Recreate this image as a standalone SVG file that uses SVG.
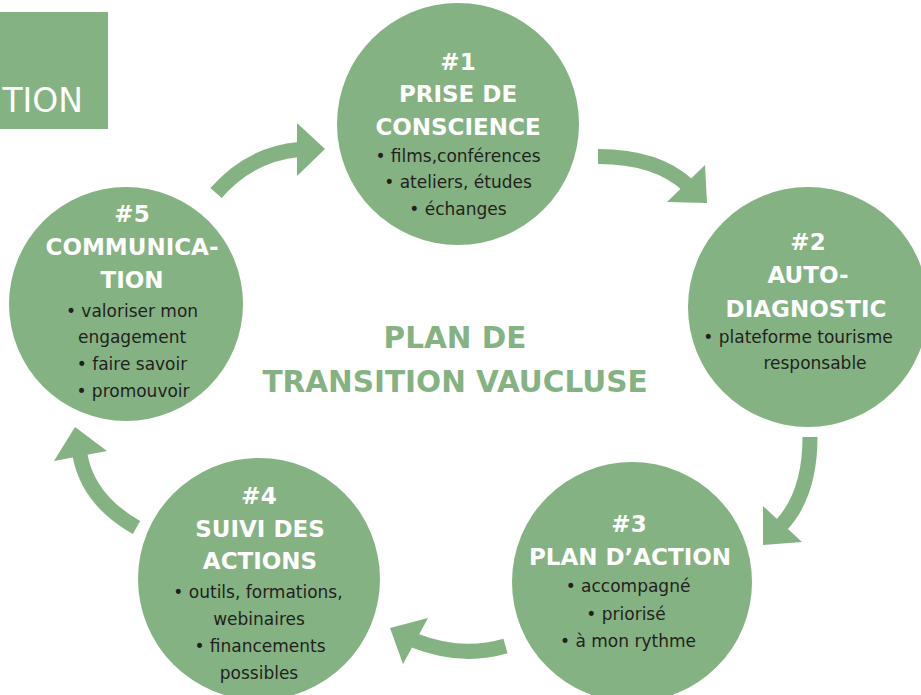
<svg xmlns="http://www.w3.org/2000/svg" width="921" height="695" viewBox="0 0 921 695">
  <style>
    .bg { fill: #ffffff; }
    .node { fill: #85b282; }
    .band { fill: none; stroke: #85b282; stroke-width: 15; stroke-linecap: butt; }
    .head { fill: #85b282; }
    .title { font-family: "DejaVu Sans", "Liberation Sans", sans-serif; font-weight: bold; font-size: 23px; fill: #ffffff; text-anchor: middle; }
    .body { font-family: "DejaVu Sans", "Liberation Sans", sans-serif; font-size: 17px; fill: #231f20; text-anchor: middle; }
    .center { font-family: "DejaVu Sans", "Liberation Sans", sans-serif; font-weight: bold; font-size: 29.5px; fill: #85b282; text-anchor: middle; }
    .corner { font-family: "DejaVu Sans", "Liberation Sans", sans-serif; font-size: 33px; fill: #ffffff; text-anchor: end; }
  </style>
  <rect class="bg" x="0" y="0" width="921" height="695"/>

  <g id="corner-label">
    <rect class="node" x="0" y="12" width="108" height="117"/>
    <text class="corner" x="83" y="112">TION</text>
  </g>

  <g id="connectors">
    <path class="band" d="M 216,193 Q 250,154 299,149.5"/>
    <polygon class="head" points="297,123 325,149 297,176"/>
    <path class="band" d="M 598,156.5 Q 657,156.5 688,185.5"/>
    <polygon class="head" points="705,165 707,203 667,202"/>
    <path class="band" d="M 810,437 Q 810,494 781.5,525"/>
    <polygon class="head" points="763,506 802,542 763,545"/>
    <path class="band" d="M 505.5,646 Q 461,659 414.5,640.5"/>
    <polygon class="head" points="428,618 390,628 403,664"/>
    <path class="band" d="M 136.5,527.5 Q 88,500 80,455"/>
    <polygon class="head" points="75,427 107,451 54,461"/>
  </g>

  <g id="step1">
    <circle class="node" cx="458" cy="124" r="121"/>
    <text class="title" x="458" y="70">#1</text>
    <text class="title" x="458" y="102">PRISE DE</text>
    <text class="title" x="458" y="135">CONSCIENCE</text>
    <text class="body" x="458" y="162">• films,conférences</text>
    <text class="body" x="458" y="188">• ateliers, études</text>
    <text class="body" x="458" y="215">• échanges</text>
  </g>

  <g id="step2">
    <circle class="node" cx="808" cy="307" r="120"/>
    <text class="title" x="808" y="250">#2</text>
    <text class="title" x="808" y="283">AUTO-</text>
    <text class="title" x="806" y="317">DIAGNOSTIC</text>
    <text class="body" x="798" y="343">• plateforme tourisme</text>
    <text class="body" x="815" y="369">responsable</text>
  </g>

  <g id="step3">
    <circle class="node" cx="632" cy="582" r="120"/>
    <text class="title" x="629" y="532">#3</text>
    <text class="title" x="630" y="565">PLAN D’ACTION</text>
    <text class="body" x="628" y="592">• accompagné</text>
    <text class="body" x="626" y="620">• priorisé</text>
    <text class="body" x="628" y="647">• à mon rythme</text>
  </g>

  <g id="step4">
    <circle class="node" cx="259" cy="579" r="121"/>
    <text class="title" x="259" y="504">#4</text>
    <text class="title" x="260" y="537">SUIVI DES</text>
    <text class="title" x="260" y="569">ACTIONS</text>
    <text class="body" x="258" y="598">• outils, formations,</text>
    <text class="body" x="259" y="625">webinaires</text>
    <text class="body" x="260" y="652">• financements</text>
    <text class="body" x="259" y="679">possibles</text>
  </g>

  <g id="step5">
    <circle class="node" cx="126" cy="304" r="117"/>
    <text class="title" x="132" y="222">#5</text>
    <text class="title" x="132" y="255">COMMUNICA-</text>
    <text class="title" x="132" y="288">TION</text>
    <text class="body" x="132" y="317">• valoriser mon</text>
    <text class="body" x="132" y="343">engagement</text>
    <text class="body" x="132" y="370">• faire savoir</text>
    <text class="body" x="133" y="397">• promouvoir</text>
  </g>

  <g id="center-label">
    <text class="center" x="455" y="348">PLAN DE</text>
    <text class="center" x="455" y="392">TRANSITION VAUCLUSE</text>
  </g>
</svg>
